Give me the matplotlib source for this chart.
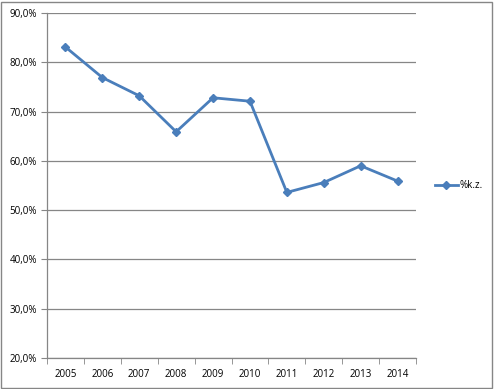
import numpy as np
import matplotlib.pyplot as plt
from matplotlib.ticker import FuncFormatter
from matplotlib.patches import Rectangle

# kategoriler ve degerler
years = ["2005", "2006", "2007", "2008", "2009", "2010", "2011", "2012", "2013", "2014"]
kz = [83.1, 76.9, 73.2, 65.9, 72.8, 72.1, 53.6, 55.6, 59.0, 55.9]
yticks = [20, 30, 40, 50, 60, 70, 80, 90]

plt.rcParams['font.family'] = ['Open Sans', 'DejaVu Sans']

fig = plt.figure(figsize=(4.94, 3.89), dpi=100)
ax = fig.add_axes([47 / 494, 1 - 358 / 389, 369 / 494, 345 / 389])

x = np.arange(len(years))
ax.plot(x, kz, color="#4A7EBB", lw=2.0, marker="D", ms=4.5, label="%k.z.")

ax.set_xlim(-0.5, len(years) - 0.5)
ax.set_ylim(20, 90)
ax.set_yticks(yticks)
ax.yaxis.set_major_formatter(FuncFormatter(lambda v, p: f"{v:.1f}%".replace(".", ",")))
ax.set_xticks(x)
ax.set_xticklabels(years)
ax.set_xticks(np.arange(-0.5, len(years)), minor=True)
ax.tick_params(axis="x", which="major", length=0, pad=8, labelsize=7)
ax.tick_params(axis="x", which="minor", length=4, color="#868686", direction="out")
ax.tick_params(axis="y", length=4, color="#868686", labelsize=7, pad=3)

ax.grid(axis="y", color="#868686", lw=0.9)
ax.set_axisbelow(True)
for s in ["top", "right"]:
    ax.spines[s].set_visible(False)
for s in ["left", "bottom"]:
    ax.spines[s].set_color("#868686")
    ax.spines[s].set_linewidth(0.9)

ax.legend(loc="center left", bbox_to_anchor=(1.04, 0.5), frameon=False,
          fontsize=7, handlelength=2.4, handletextpad=0.2, borderaxespad=0)

fig.patches.append(Rectangle((0.002, 0.003), 0.994, 0.993, transform=fig.transFigure,
                             fill=False, edgecolor="#868686", lw=1))

fig.savefig("out.png", dpi=100)
